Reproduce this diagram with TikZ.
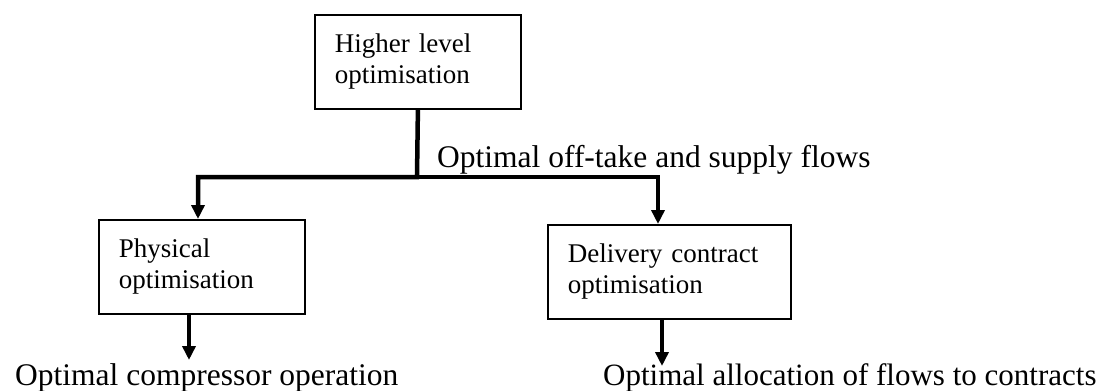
\documentclass[tikz,border=0pt]{standalone}
\usepackage{fontspec}
\setmainfont{Liberation Serif}
\usetikzlibrary{arrows.meta}
\begin{document}
\begin{tikzpicture}[x=1pt,y=-1pt,
  box/.style={draw, line width=1.8pt, minimum height=94pt, inner xsep=20pt, inner ysep=0pt,
    align=left, font=\fontsize{27}{31}\selectfont, anchor=north west},
  arr/.style={line width=4.5pt, -{Triangle[length=14pt,width=13pt]}},
  lab/.style={font=\fontsize{31.5}{36}\selectfont, anchor=base west, inner sep=0pt}]
\useasboundingbox (0,0) rectangle (1104,391);
\node[box, text width=166pt] (top) at (314,14) {Higher level\\optimisation};
\node[box, text width=166pt] (phys) at (98,219) {Physical\\optimisation};
\node[box, text width=203pt] (del) at (547,224) {Delivery contract\\optimisation};
\coordinate (j) at (417,177);
\coordinate (jl) at (198,177);
\coordinate (jr) at (658,177);
\coordinate (b1) at (189,360);
\coordinate (b2) at (662,366);
\draw[arr] (top.south) -- (j) -| (phys.north -| jl);
\draw[arr] (j) -| (del.north -| jr);
\draw[arr] (phys.south -| b1) -- (b1);
\draw[arr] (del.south -| b2) -- (b2);
\node[lab] (l1) at (437,167) {Optimal off-take and supply flows};
\node[lab] (l2) at (15,385) {Optimal compressor operation};
\node[lab, font=\fontsize{31}{36}\selectfont] (l3) at (603,385) {Optimal allocation of flows to contracts};
\end{tikzpicture}
\end{document}
